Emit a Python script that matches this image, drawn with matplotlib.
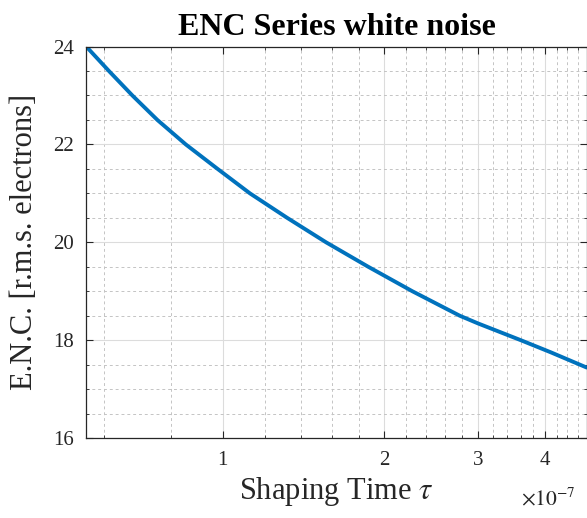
import numpy as np
import matplotlib
matplotlib.use("Agg")
import matplotlib.pyplot as plt
from matplotlib.ticker import FixedLocator, NullFormatter

plt.rcParams['font.family'] = ['Liberation Serif', 'DejaVu Serif']
plt.rcParams['mathtext.fontset'] = 'stix'

# shaping time in units of 1e-7 s, ENC
tau = [0.557, 0.614, 0.679, 0.756, 0.854, 0.979, 1.125, 1.32, 1.56, 1.87,
       2.26, 2.77, 3.0, 3.6, 4.1, 4.64, 4.78]
enc = [24.0, 23.5, 23.0, 22.5, 22.0, 21.5, 21.0, 20.5, 20.0, 19.5,
       19.0, 18.5, 18.34, 18.0, 17.75, 17.5, 17.44]

x_major = [1, 2, 3, 4]
x_minor = [0.6, 0.8, 1.2, 1.4, 1.6, 1.8, 2.2, 2.4, 2.6, 2.8,
           3.2, 3.4, 3.6, 3.8, 4.2, 4.4, 4.6]
y_major = [16, 18, 20, 22, 24]
y_minor = [16.5, 17, 17.5, 18.5, 19, 19.5, 20.5, 21, 21.5,
           22.5, 23, 23.5]

fig = plt.figure(figsize=(5.87, 5.18), dpi=100)
ax = fig.add_axes([0.147, 0.1544, 0.8525, 0.7557])

ax.plot(tau, enc, color='#0072BD', lw=2.8, solid_capstyle='round',
        solid_joinstyle='round')

ax.set_xscale('log')
ax.set_xlim(tau[0], tau[-1])
ax.set_ylim(16, 24)

ax.xaxis.set_major_locator(FixedLocator(x_major))
ax.xaxis.set_minor_locator(FixedLocator(x_minor))
ax.xaxis.set_minor_formatter(NullFormatter())
ax.set_xticklabels([str(v) for v in x_major])
ax.yaxis.set_major_locator(FixedLocator(y_major))
ax.yaxis.set_minor_locator(FixedLocator(y_minor))

ax.grid(True, which='major', color='#dcdcdc', lw=0.8, ls='-')
ax.grid(True, which='minor', color='#c4c4c4', lw=0.7, ls=(0, (3, 3)))
ax.set_axisbelow(True)

ax.tick_params(which='both', direction='in', top=True, right=True,
               colors='#262626', labelsize=15)
ax.tick_params(which='major', length=5, width=0.8, pad=9)
ax.tick_params(which='minor', length=2.5, width=0.6)
for s in ax.spines.values():
    s.set_color('#262626')
    s.set_linewidth(0.9)

ax.set_title('ENC Series white noise', fontsize=23, fontweight='bold', pad=8)
ax.set_ylabel('E.N.C. [r.m.s. electrons]', fontsize=22, color='#262626', labelpad=10)
ax.set_xlabel(r'Shaping Time $\tau$', fontsize=22, color='#262626', labelpad=4)
ax.text(0.978, -0.155, r'$\times10^{-7}$', transform=ax.transAxes,
        ha='right', va='center', fontsize=15.5, color='#262626')

fig.savefig('out.png', dpi=100)
